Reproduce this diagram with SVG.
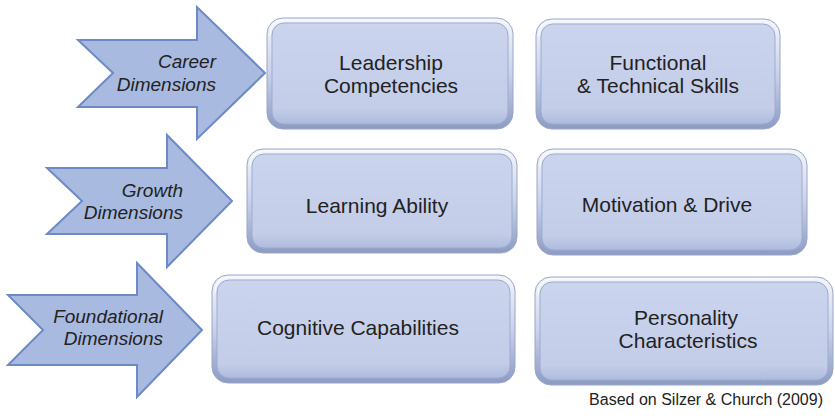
<svg xmlns="http://www.w3.org/2000/svg" width="835" height="419" viewBox="0 0 835 419">
  <defs>
    <linearGradient id="rim" x1="0" y1="0" x2="0" y2="1">
      <stop offset="0" stop-color="#f4f6fb"/>
      <stop offset="0.5" stop-color="#c9d2ea"/>
      <stop offset="1" stop-color="#8d9bc4"/>
    </linearGradient>
    <linearGradient id="face" x1="0" y1="0" x2="0" y2="1">
      <stop offset="0" stop-color="#cbd4ed"/>
      <stop offset="0.85" stop-color="#c3cde8"/>
      <stop offset="1" stop-color="#aebbdd"/>
    </linearGradient>
    <style>
      .rim { fill: url(#rim); stroke: #9aa6c8; stroke-width: 1; }
      .face { fill: url(#face); stroke: #9eabd0; stroke-width: 1; }
      .shine { fill: none; stroke: #ffffff; stroke-opacity: 0.7; stroke-width: 1.2; }
      .arrow { fill: #a9bae0; stroke: #6d89c6; stroke-width: 2; stroke-linejoin: miter; }
      .atext { font-family: "Liberation Sans", Arial, sans-serif; font-style: italic; font-size: 19px; fill: #222; text-anchor: end; }
      .btext { font-family: "Liberation Sans", Arial, sans-serif; font-size: 21px; fill: #222; text-anchor: middle; }
      .note { font-family: "Liberation Sans", Arial, sans-serif; font-size: 16px; fill: #222; text-anchor: end; }
    </style>
  </defs>

  <rect width="835" height="419" fill="#ffffff"/>

  <!-- dimension arrows -->
  <g id="connectors">
    <g id="career">
      <polygon class="arrow" points="78,40 197,40 197,7 265,73 197,139 197,107 78,107 113,73"/>
      <text class="atext" x="216" y="68">Career</text>
      <text class="atext" x="216" y="91">Dimensions</text>
    </g>
    <g id="growth">
      <polygon class="arrow" points="47,168 167,168 167,135 232,201 167,267 167,234 47,234 82,201"/>
      <text class="atext" x="183" y="197">Growth</text>
      <text class="atext" x="183" y="219">Dimensions</text>
    </g>
    <g id="foundational">
      <polygon class="arrow" points="8,295 137,295 137,263 202,330 137,397 137,365 8,365 43,330"/>
      <text class="atext" x="163" y="323">Foundational</text>
      <text class="atext" x="163" y="345">Dimensions</text>
    </g>
  </g>

  <!-- competency boxes -->
  <g id="leadership">
    <rect class="rim" x="267" y="18" width="246" height="111" rx="16"/>
    <rect class="face" x="272" y="23" width="236" height="101" rx="12"/>
    <path class="shine" d="M270,36 Q270,20 286,20 L494,20"/>
    <text class="btext" x="391" y="70">Leadership</text>
    <text class="btext" x="391" y="93">Competencies</text>
  </g>
  <g id="functional">
    <rect class="rim" x="536" y="19" width="244" height="110" rx="16"/>
    <rect class="face" x="541" y="24" width="234" height="100" rx="12"/>
    <path class="shine" d="M539,37 Q539,21 555,21 L761,21"/>
    <text class="btext" x="658" y="70">Functional</text>
    <text class="btext" x="658" y="93">&amp; Technical Skills</text>
  </g>
  <g id="learning">
    <rect class="rim" x="247" y="149" width="270" height="104" rx="16"/>
    <rect class="face" x="252" y="154" width="260" height="94" rx="12"/>
    <path class="shine" d="M250,167 Q250,151 266,151 L498,151"/>
    <text class="btext" x="377" y="213">Learning Ability</text>
  </g>
  <g id="motivation">
    <rect class="rim" x="537" y="149" width="270" height="106" rx="16"/>
    <rect class="face" x="542" y="154" width="260" height="96" rx="12"/>
    <path class="shine" d="M540,167 Q540,151 556,151 L788,151"/>
    <text class="btext" x="667" y="212">Motivation &amp; Drive</text>
  </g>
  <g id="cognitive">
    <rect class="rim" x="212" y="275" width="303" height="108" rx="16"/>
    <rect class="face" x="217" y="280" width="293" height="98" rx="12"/>
    <path class="shine" d="M215,293 Q215,277 231,277 L496,277"/>
    <text class="btext" x="358" y="335">Cognitive Capabilities</text>
  </g>
  <g id="personality">
    <rect class="rim" x="535" y="277" width="298" height="108" rx="16"/>
    <rect class="face" x="540" y="282" width="288" height="98" rx="12"/>
    <path class="shine" d="M538,295 Q538,279 554,279 L814,279"/>
    <text class="btext" x="686" y="325">Personality</text>
    <text class="btext" x="688" y="348">Characteristics</text>
  </g>

  <text class="note" x="823" y="405">Based on Silzer &amp; Church (2009)</text>
</svg>
